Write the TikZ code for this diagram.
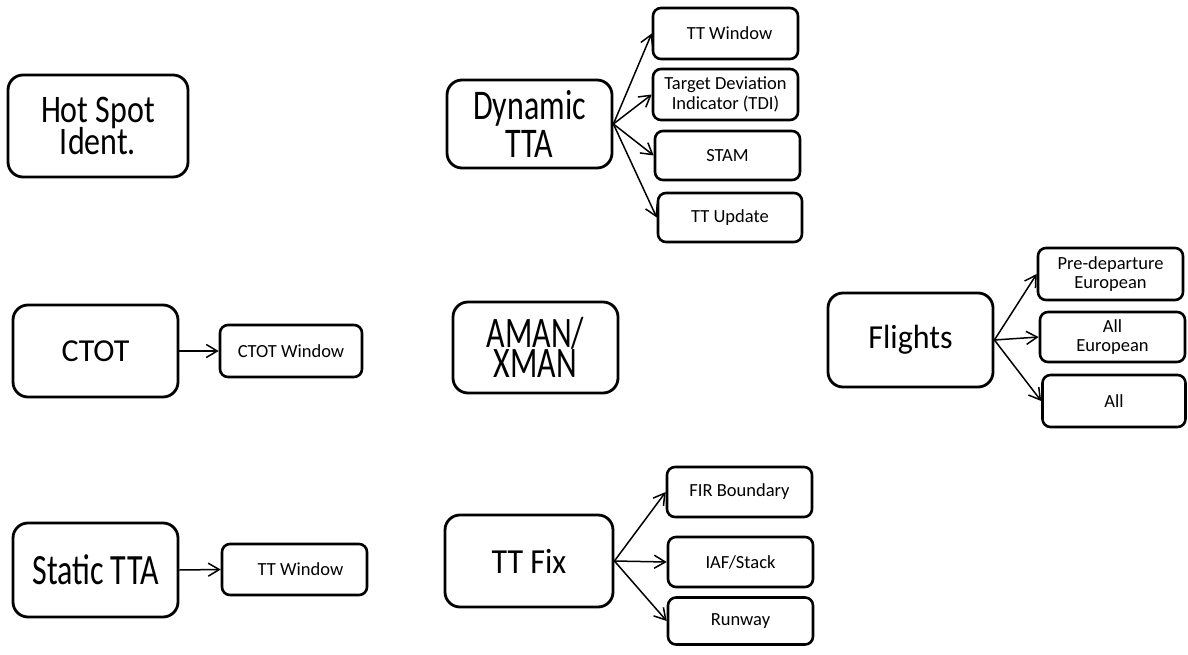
\documentclass[tikz,border=0pt]{standalone}
\usepackage{fontspec}
\setmainfont{Carlito}
\usepackage{graphicx}
\usetikzlibrary{arrows.meta}

% Centred lines of large text, optionally stretched vertically.
% #1 vertical stretch, #2 font size, #3 baseline skip, #4 lines separated by \cr
\newcommand\vtxt[4]{\scalebox{1}[#1]{\vbox{\fontsize{#2}{#3}\selectfont
  \lineskiplimit=-100pt\halign{\hfil##\hfil\cr#4\crcr}}}}

\tikzset{
  bigbox/.style={draw, line width=2.8pt, rounded corners=15pt, inner sep=0pt,
    minimum width=165pt},
  smallbox/.style={draw, line width=2.6pt, rounded corners=8pt, inner sep=0pt,
    minimum width=145pt, align=center, font=\fontsize{18.5}{19.5}\selectfont},
  link/.style={line width=1.5pt, -{Straight Barb[length=11pt,width=13pt]}}
}

\begin{document}
\begin{tikzpicture}[x=1pt,y=-1pt]
\useasboundingbox (0,0) rectangle (1188,655);

% left column
\node[bigbox, minimum width=180pt, minimum height=102pt] (hot) at (98,126)
  {\vtxt{1.22}{32}{26.5}{Hot Spot\cr Ident.}};
\node[bigbox, minimum height=92pt] (ctot) at (95.5,351)
  {\vtxt{1}{32}{32}{CTOT}};
\node[smallbox, minimum width=142pt, minimum height=52pt] (ctotw) at (291,351)
  {CTOT Window};
\node[bigbox, minimum height=94pt] (static) at (95.5,570)
  {\vtxt{1.35}{32}{32}{Static TTA}};
\node[smallbox, minimum height=51pt] (ttw2) at (294.5,569.5)
  {\hspace*{12pt}TT Window};

% middle column
\node[bigbox, minimum height=88pt] (dyn) at (529.5,124)
  {\vtxt{1.32}{32}{28.5}{Dynamic\cr TTA}};
\node[smallbox, minimum height=51pt] (ttw1) at (725.5,33.5)
  {\hspace*{8pt}TT Window};
\node[smallbox, minimum height=51pt] (tdi) at (725.5,94.5)
  {Target Deviation\\Indicator (TDI)};
\node[smallbox, minimum height=49pt] (stam) at (727.5,155.5) {STAM};
\node[smallbox, minimum width=144pt, minimum height=49pt] (ttu) at (730,217.5)
  {TT Update};

\node[bigbox, minimum height=91pt] (aman) at (535.5,347.5)
  {\vtxt{1.36}{32}{22}{AMAN/\cr XMAN}};

\node[bigbox, minimum width=168pt, minimum height=92pt] (ttfix) at (529,561)
  {\vtxt{1.1}{32}{32}{TT Fix}};
\node[smallbox, minimum height=50pt] (fir) at (739.5,492) {FIR Boundary};
\node[smallbox, minimum height=50pt] (iaf) at (740.5,562) {IAF/Stack};
\node[smallbox, minimum height=47pt] (rwy) at (740.5,621) {Runway};

% right column
\node[bigbox, minimum height=94pt] (flights) at (910.5,340)
  {\vtxt{1.05}{32}{32}{Flights}};
\node[smallbox, minimum height=52pt] (pre) at (1110.5,274)
  {Pre-departure\\European};
\node[smallbox, minimum height=50pt] (alleu) at (1112.5,337)
  {All\\European};
\node[smallbox, minimum width=143pt, minimum height=52pt] (all) at (1114,401)
  {All};

% connectors
\draw[link] (ctot.east) -- (ctotw.west);
\draw[link] (static.east) -- (ttw2.west);
\foreach \t in {ttw1,tdi,stam,ttu} \draw[link] (dyn.east) -- (\t.west);
\foreach \t in {fir,iaf,rwy} \draw[link] (ttfix.east) -- (\t.west);
\foreach \t in {pre,alleu,all} \draw[link] (flights.east) -- (\t.west);
\end{tikzpicture}
\end{document}
